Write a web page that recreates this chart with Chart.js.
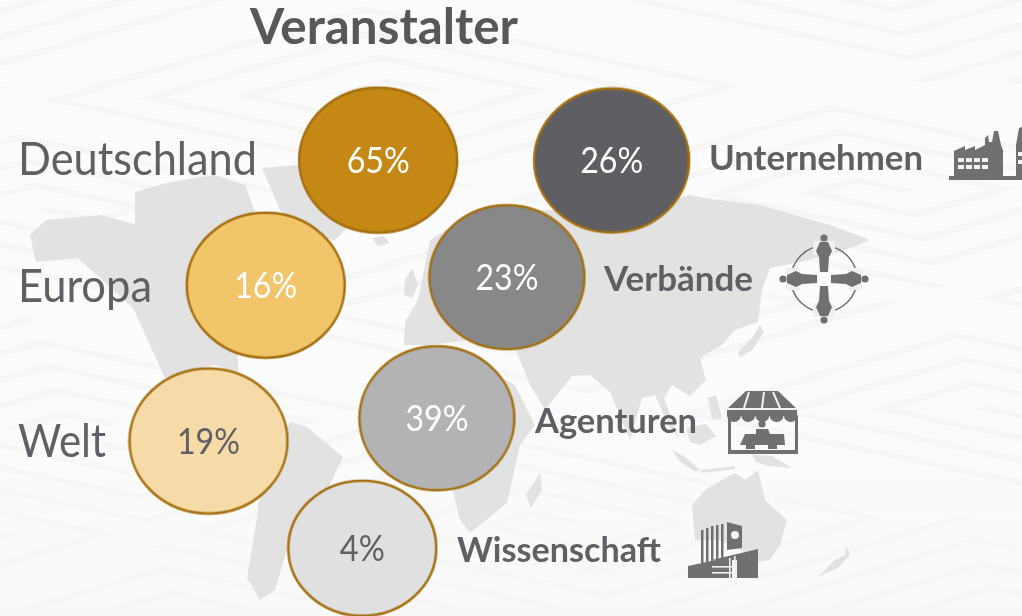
<!DOCTYPE html>
<html>
<head>
<meta charset="utf-8">
<script src="https://cdn.jsdelivr.net/npm/chart.js@4.2.0/dist/chart.umd.min.js"></script>
<style>
  html, body { margin: 0; padding: 0; background: #fcfcfc; }
  canvas { display: block; }
</style>
</head>
<body>
<canvas id="myChart" width="1022" height="616"></canvas>
<script>
const chartTitle = 'Veranstalter';
const regions = ['Deutschland', 'Europa', 'Welt'];
const regionValues = [65, 16, 19];
const organizers = ['Unternehmen', 'Verbände', 'Agenturen', 'Wissenschaft'];
const organizerValues = [26, 23, 39, 4];

// layout of the slide, in percent of width / height
const regionX = [37, 26, 20.4];
const regionY = [26, 46.3, 71.6];
const organizerX = [59.85, 49.6, 42.75, 35.45];
const organizerY = [26.05, 45, 67.9, 89];

const ink = '#5f5f64';
const iconInk = '#707071';
const rim = '#a56f10';
const regionFill = ['#c58815', '#f2c56b', '#f6dba8'];
const organizerFill = ['#5f5e63', '#888889', '#b3b3b5', '#e0e0e0'];

function ellipseSprite(fill, rx, ry) {
  const c = document.createElement('canvas');
  c.width = Math.ceil(rx * 2 + 4);
  c.height = Math.ceil(ry * 2 + 4);
  const g = c.getContext('2d');
  g.beginPath();
  g.ellipse(c.width / 2, c.height / 2, rx, ry, 0, 0, Math.PI * 2);
  g.fillStyle = fill;
  g.fill();
  g.lineWidth = 2.5;
  g.strokeStyle = rim;
  g.stroke();
  return c;
}

const regionSprites = regionFill.map(f => ellipseSprite(f, 79, 72.5));
const organizerSprites = organizerFill.map((f, i) => i == 3 ? ellipseSprite(f, 74, 67.5) : ellipseSprite(f, 77.5, 72));

// ---- background -----
function spiral(ctx, cx, cy, turns, dir) {
  let a = cx, b = cy, len = 1, sx = dir, sy = 0;
  ctx.moveTo(a, b);
  for (let i = 0; i < turns; i++) {
    a += sx * len;
    b += sy * len;
    ctx.lineTo(a, b);
    const t = sx; sx = -sy; sy = t;
    if (i % 2 == 1) len++;
  }
}

function drawMaze(ctx) {
  ctx.save();
  ctx.setTransform(52, 11, 44, -13, 511, 308);
  ctx.strokeStyle = '#f6f6f6';
  ctx.lineWidth = 0.26;
  ctx.beginPath();
  let k = 0;
  for (let a = -27; a < 27; a += 9) {
    for (let b = -27; b < 27; b += 9) {
      spiral(ctx, a, b, 14 + (k % 3), k % 2 ? 1 : -1);
      k++;
    }
  }
  ctx.stroke();
  ctx.restore();
  const veil = ctx.createLinearGradient(0, 380, 0, 616);
  veil.addColorStop(0, 'rgba(250,250,250,0)');
  veil.addColorStop(1, 'rgba(248,248,248,0.9)');
  ctx.fillStyle = veil;
  ctx.fillRect(0, 380, 1022, 236);
}

const land = [
  [[30,235],[46,220],[100,215],[135,224],[135,192],[170,182],[215,175],[245,185],[262,230],[300,240],[330,300],[300,340],[238,352],[238,372],[215,365],[190,375],[165,378],[150,345],[133,308],[78,258],[36,262]],
  [[262,168],[298,165],[340,190],[350,225],[335,240],[310,235],[280,210]],
  [[372,238],[384,236],[390,243],[378,246]],
  [[290,422],[307,427],[343,457],[333,478],[320,510],[290,540],[275,590],[260,600],[247,578],[257,517],[262,480],[280,440]],
  [[404,345],[405,322],[418,300],[430,240],[480,210],[585,210],[650,205],[690,195],[705,198],[760,205],[830,225],[870,240],[845,250],[800,262],[770,268],[762,290],[758,322],[735,330],[722,345],[700,358],[706,380],[690,396],[672,385],[664,398],[680,440],[668,424],[655,395],[642,398],[630,440],[610,392],[590,375],[572,376],[545,410],[530,385],[515,348],[470,340],[430,345]],
  [[405,280],[412,268],[418,285],[412,298],[404,295]],
  [[365,400],[400,365],[470,360],[515,385],[535,425],[520,445],[507,503],[470,533],[460,520],[450,480],[420,470],[375,450]],
  [[540,473],[542,490],[531,508],[526,495]],
  [[692,505],[705,490],[725,478],[735,473],[745,480],[758,470],[765,500],[787,520],[780,545],[770,560],[750,563],[745,552],[720,540],[695,540]],
  [[818,577],[835,560],[845,555],[846,545],[850,555],[838,568]],
  [[672,450],[684,456],[700,470],[696,472],[680,462]],
  [[686,428],[706,424],[716,436],[700,445],[690,442]],
  [[708,398],[716,395],[722,418],[712,420]],
  [[752,454],[772,456],[792,468],[768,466],[756,462]],
  [[738,352],[752,338],[760,325],[764,332],[752,350],[740,358]],
  [[700,470],[735,466],[735,469],[702,473]]
];

function drawLand(ctx) {
  ctx.fillStyle = '#e2e2e2';
  land.forEach(poly => {
    ctx.beginPath();
    poly.forEach((p, i) => i ? ctx.lineTo(p[0], p[1]) : ctx.moveTo(p[0], p[1]));
    ctx.closePath();
    ctx.fill();
  });
}

// ---- icons -----
function poly(ctx, pts) {
  ctx.beginPath();
  pts.forEach((p, i) => i ? ctx.lineTo(p[0], p[1]) : ctx.moveTo(p[0], p[1]));
  ctx.closePath();
  ctx.fill();
}

function factoryIcon(ctx) {
  ctx.fillStyle = iconInk;
  ctx.fillRect(949, 176, 73, 4);
  poly(ctx, [[954,177],[954,151],[965,146],[965,150],[975,146],[975,150],[985,145],[985,138],[988,135],[989,142],[992,142],[994,131],[998,131],[1001,145],[1003,150],[1003,177]]);
  poly(ctx, [[1016,177],[1016,145],[1019,128],[1022,127],[1022,177]]);
  ctx.fillStyle = '#f4f4f4';
  for (let r = 0; r < 2; r++) {
    for (let c = 0; c < 4; c++) {
      ctx.fillRect(958 + c * 8, 158 + r * 7, 6, 4);
    }
  }
  ctx.fillRect(1018, 152, 4, 4);
  ctx.fillRect(1018, 160, 4, 4);
}

function meetingIcon(ctx) {
  const cx = 824, cy = 279;
  ctx.strokeStyle = iconInk;
  ctx.lineWidth = 1.5;
  ctx.beginPath();
  ctx.arc(cx, cy, 33, 0, Math.PI * 2);
  ctx.stroke();
  for (let i = 0; i < 4; i++) {
    ctx.save();
    ctx.translate(cx, cy);
    ctx.rotate(i * Math.PI / 2);
    ctx.fillStyle = 'rgba(240,240,240,1)';
    ctx.fillRect(-11, -38, 22, 14);
    ctx.fillStyle = iconInk;
    poly(ctx, [[-4,-37],[4,-37],[8,-28],[5,-22],[4,-7],[-4,-7],[-5,-22],[-8,-28]]);
    ctx.beginPath();
    ctx.arc(0, -41, 3.6, 0, Math.PI * 2);
    ctx.fill();
    ctx.restore();
  }
}

function storeIcon(ctx) {
  ctx.fillStyle = iconInk;
  poly(ctx, [[746,391],[778,391],[797,409],[797,416],[727,416],[727,409]]);
  ctx.fillRect(728, 416, 3, 37);
  ctx.fillRect(795, 416, 3, 37);
  ctx.fillRect(728, 450, 70, 4);
  ctx.fillStyle = '#f2f2f2';
  ctx.fillRect(727, 408, 71, 2);
  [[749,392,744,408],[764,392,762,408],[773,392,780,408]].forEach(l => {
    ctx.strokeStyle = '#f2f2f2';
    ctx.lineWidth = 2;
    ctx.beginPath();
    ctx.moveTo(l[0], l[1]);
    ctx.lineTo(l[2], l[3]);
    ctx.stroke();
  });
  ctx.fillStyle = iconInk;
  for (let i = 0; i < 5; i++) {
    ctx.beginPath();
    ctx.arc(734 + i * 14.2, 415, 7, 0, Math.PI);
    ctx.fill();
  }
  // people at the counter
  ctx.beginPath();
  ctx.arc(762, 424, 3.6, 0, Math.PI * 2);
  ctx.fill();
  poly(ctx, [[756,429],[768,429],[770,434],[784,434],[785,445],[740,445],[745,434],[756,434]]);
  ctx.fillRect(746, 445, 9, 4);
  ctx.fillRect(768, 445, 9, 4);
}

function scienceIcon(ctx) {
  ctx.fillStyle = iconInk;
  [[701,530,2.5],[706,528,2.5],[711,526,2.5],[716,525,2.5],[721,524,2.5]].forEach(b => {
    ctx.fillRect(b[0], b[1], b[2], 42);
  });
  poly(ctx, [[727,522],[742,526],[742,548],[727,550]]);
  poly(ctx, [[712,560],[758,549],[758,578],[737,578],[737,560]]);
  poly(ctx, [[688,566],[716,560],[732,558],[732,578],[688,578]]);
  ctx.fillStyle = '#f2f2f2';
  ctx.fillRect(712, 566, 20, 1.6);
  ctx.fillRect(712, 572, 20, 1.6);
  ctx.fillRect(734, 556, 1.6, 22);
  ctx.fillRect(729, 558, 1.6, 20);
  ctx.beginPath();
  ctx.arc(735, 535, 4, 0, Math.PI * 2);
  ctx.fill();
}

// width-fitted text so the stand-in for the original face keeps its extent
function fitText(ctx, text, left, baseline, width, font, color) {
  ctx.save();
  ctx.font = font;
  ctx.fillStyle = color;
  ctx.textAlign = 'left';
  ctx.textBaseline = 'alphabetic';
  const w = ctx.measureText(text).width;
  ctx.translate(left, baseline);
  ctx.scale(width / w, 1);
  ctx.fillText(text, 0, 0);
  ctx.restore();
}

const backdrop = {
  id: 'backdrop',
  beforeDatasetsDraw(chart) {
    const ctx = chart.ctx;
    ctx.save();
    drawMaze(ctx);
    drawLand(ctx);
    factoryIcon(ctx);
    meetingIcon(ctx);
    storeIcon(ctx);
    scienceIcon(ctx);
    ctx.restore();
  }
};

const textLayer = {
  id: 'textLayer',
  afterDatasetsDraw(chart) {
    const ctx = chart.ctx;
    const font = (size, bold) => (bold ? 'bold ' : '') + size + 'px Lato, Carlito, sans-serif';
    fitText(ctx, chartTitle, 250, 44, 268, font(50, true), '#58585a');

    const regionText = [[18, 175, 239], [18, 302, 134], [18, 457, 88]];
    regions.forEach((r, i) => fitText(ctx, r, regionText[i][0], regionText[i][1], regionText[i][2], font(46), ink));

    const orgText = [[709, 170, 214], [604, 291, 149], [535, 433, 162], [457, 562, 204]];
    organizers.forEach((o, i) => fitText(ctx, o, orgText[i][0], orgText[i][1], orgText[i][2], font(34, true), ink));

    // value labels, centred on their bubbles
    const x = chart.scales.x, y = chart.scales.y;
    const pct = (v, cx, cy, color) => {
      ctx.save();
      ctx.font = font(36);
      ctx.fillStyle = color;
      ctx.textAlign = 'center';
      ctx.textBaseline = 'alphabetic';
      const t = v + '%';
      const target = v < 10 ? 45 : 63;
      const w = ctx.measureText(t).width;
      ctx.translate(x.getPixelForValue(cx), y.getPixelForValue(cy) + 13);
      ctx.scale(target / w, 1);
      ctx.fillText(t, 0, 0);
      ctx.restore();
    };
    regionValues.forEach((v, i) => pct(v, regionX[i], regionY[i], i == 2 ? ink : '#ffffff'));
    organizerValues.forEach((v, i) => pct(v, organizerX[i], organizerY[i], i == 3 ? ink : '#ffffff'));
  }
};

new Chart(document.getElementById('myChart'), {
  type: 'bubble',
  data: {
    datasets: [
      {
        label: 'Region',
        data: regionValues.map((v, i) => ({ x: regionX[i], y: regionY[i], r: 72 })),
        pointStyle: c => regionSprites[c.dataIndex],
        clip: false
      },
      {
        label: 'Veranstalter',
        data: organizerValues.map((v, i) => ({ x: organizerX[i], y: organizerY[i], r: 72 })),
        pointStyle: c => organizerSprites[c.dataIndex],
        clip: false
      }
    ]
  },
  options: {
    responsive: false,
    animation: false,
    layout: { padding: 0, autoPadding: false },
    scales: {
      x: { type: 'linear', display: false, min: 0, max: 100 },
      y: { type: 'linear', display: false, min: 0, max: 100, reverse: true }
    },
    plugins: { legend: { display: false }, tooltip: { enabled: false } }
  },
  plugins: [backdrop, textLayer]
});
</script>
</body>
</html>
